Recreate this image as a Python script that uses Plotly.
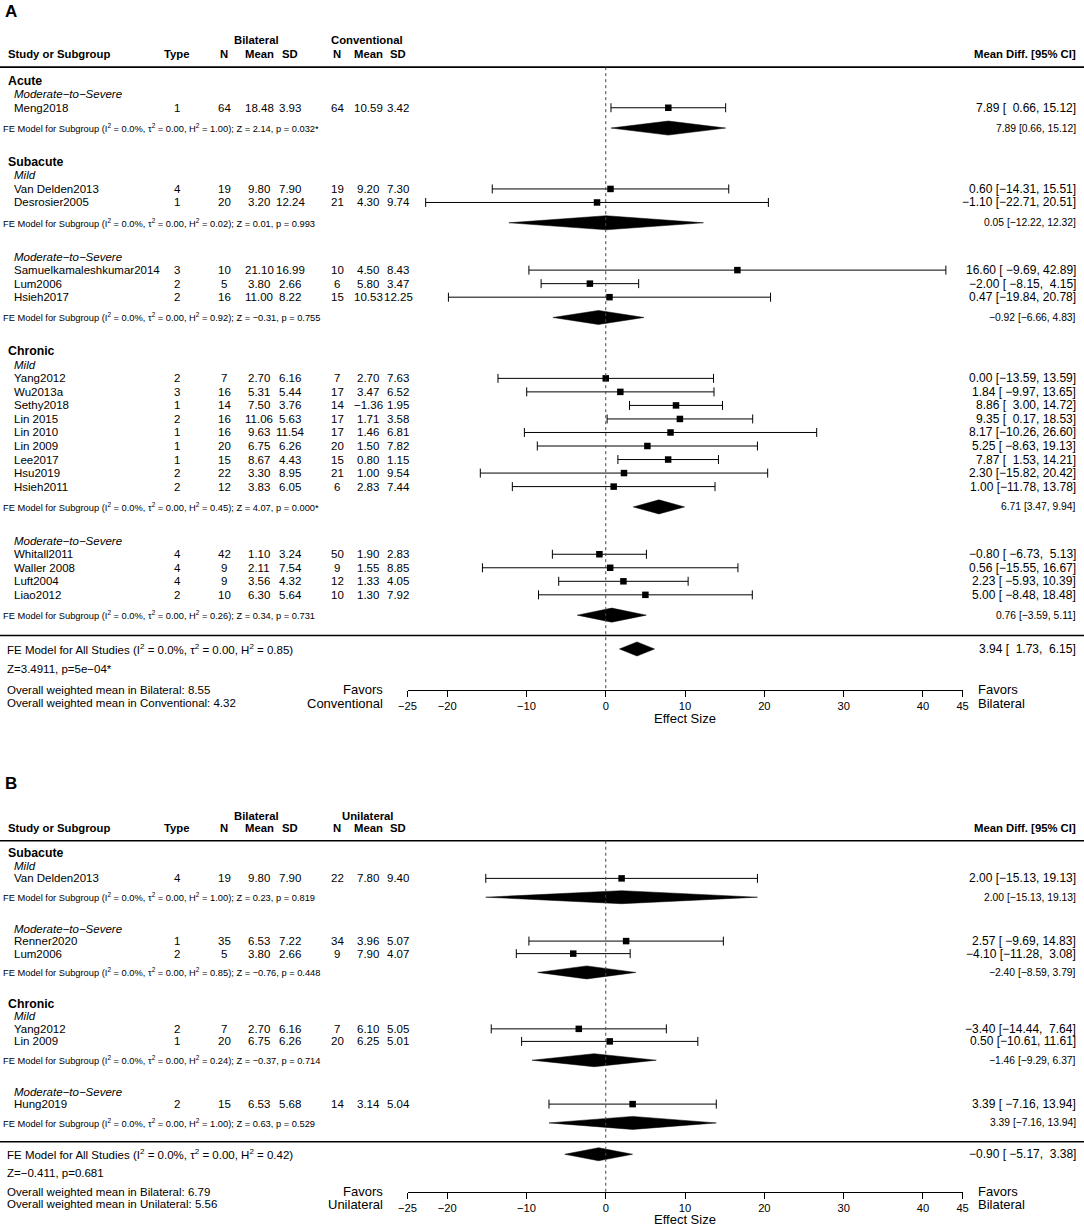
import plotly.graph_objects as go

W, H = 1084, 1226
MINUS = "\u2212"
NB = "\u00a0"
FONT = "Liberation Sans, Arial, Helvetica, sans-serif"

# ---------------- Panel A data (Bilateral vs Conventional) ----------------
a_study = ["Meng2018", "Van Delden2013", "Desrosier2005", "Samuelkamaleshkumar2014", "Lum2006", "Hsieh2017",
           "Yang2012", "Wu2013a", "Sethy2018", "Lin 2015", "Lin 2010", "Lin 2009", "Lee2017", "Hsu2019",
           "Hsieh2011", "Whitall2011", "Waller 2008", "Luft2004", "Liao2012"]
a_stage = ["Acute", "Subacute", "Subacute", "Subacute", "Subacute", "Subacute",
           "Chronic", "Chronic", "Chronic", "Chronic", "Chronic", "Chronic", "Chronic", "Chronic",
           "Chronic", "Chronic", "Chronic", "Chronic", "Chronic"]
a_sev = ["Moderate-to-Severe", "Mild", "Mild", "Moderate-to-Severe", "Moderate-to-Severe", "Moderate-to-Severe",
         "Mild", "Mild", "Mild", "Mild", "Mild", "Mild", "Mild", "Mild", "Mild",
         "Moderate-to-Severe", "Moderate-to-Severe", "Moderate-to-Severe", "Moderate-to-Severe"]
a_type = [1, 4, 1, 3, 2, 2, 2, 3, 1, 2, 1, 1, 1, 2, 2, 4, 4, 4, 2]
a_bn = [64, 19, 20, 10, 5, 16, 7, 16, 14, 16, 16, 20, 15, 22, 12, 42, 9, 9, 10]
a_bmean = [18.48, 9.80, 3.20, 21.10, 3.80, 11.00, 2.70, 5.31, 7.50, 11.06, 9.63, 6.75, 8.67, 3.30, 3.83,
           1.10, 2.11, 3.56, 6.30]
a_bsd = [3.93, 7.90, 12.24, 16.99, 2.66, 8.22, 6.16, 5.44, 3.76, 5.63, 11.54, 6.26, 4.43, 8.95, 6.05,
         3.24, 7.54, 4.32, 5.64]
a_cn = [64, 19, 21, 10, 6, 15, 7, 17, 14, 17, 17, 20, 15, 21, 6, 50, 9, 12, 10]
a_cmean = [10.59, 9.20, 4.30, 4.50, 5.80, 10.53, 2.70, 3.47, -1.36, 1.71, 1.46, 1.50, 0.80, 1.00, 2.83,
           1.90, 1.55, 1.33, 1.30]
a_csd = [3.42, 7.30, 9.74, 8.43, 3.47, 12.25, 7.63, 6.52, 1.95, 3.58, 6.81, 7.82, 1.15, 9.54, 7.44,
         2.83, 8.85, 4.05, 7.92]
a_md = [7.89, 0.60, -1.10, 16.60, -2.00, 0.47, 0.00, 1.84, 8.86, 9.35, 8.17, 5.25, 7.87, 2.30, 1.00,
        -0.80, 0.56, 2.23, 5.00]
a_lo = [0.66, -14.31, -22.71, -9.69, -8.15, -19.84, -13.59, -9.97, 3.00, 0.17, -10.26, -8.63, 1.53, -15.82,
        -11.78, -6.73, -15.55, -5.93, -8.48]
a_hi = [15.12, 15.51, 20.51, 42.89, 4.15, 20.78, 13.59, 13.65, 14.72, 18.53, 26.60, 19.13, 14.21, 20.42,
        13.78, 5.13, 16.67, 10.39, 18.48]
# subgroup fixed-effect models
a_fe_stage = ["Acute", "Subacute", "Subacute", "Chronic", "Chronic"]
a_fe_sev = ["Moderate-to-Severe", "Mild", "Moderate-to-Severe", "Mild", "Moderate-to-Severe"]
a_fe_i2 = [0.0, 0.0, 0.0, 0.0, 0.0]
a_fe_tau2 = [0.00, 0.00, 0.00, 0.00, 0.00]
a_fe_h2 = [1.00, 0.02, 0.92, 0.45, 0.26]
a_fe_z = [2.14, 0.01, -0.31, 4.07, 0.34]
a_fe_p = [0.032, 0.993, 0.755, 0.000, 0.731]
a_fe_md = [7.89, 0.05, -0.92, 6.71, 0.76]
a_fe_lo = [0.66, -12.22, -6.66, 3.47, -3.59]
a_fe_hi = [15.12, 12.32, 4.83, 9.94, 5.11]
# overall model
a_all = dict(md=3.94, lo=1.73, hi=6.15, i2=0.0, tau2=0.00, h2=0.85, z="3.4911", p=5e-04,
             mean_b=8.55, mean_c=4.32)

# ---------------- Panel B data (Bilateral vs Unilateral) ----------------
b_study = ["Van Delden2013", "Renner2020", "Lum2006", "Yang2012", "Lin 2009", "Hung2019"]
b_stage = ["Subacute", "Subacute", "Subacute", "Chronic", "Chronic", "Chronic"]
b_sev = ["Mild", "Moderate-to-Severe", "Moderate-to-Severe", "Mild", "Mild", "Moderate-to-Severe"]
b_type = [4, 1, 2, 2, 1, 2]
b_bn = [19, 35, 5, 7, 20, 15]
b_bmean = [9.80, 6.53, 3.80, 2.70, 6.75, 6.53]
b_bsd = [7.90, 7.22, 2.66, 6.16, 6.26, 5.68]
b_cn = [22, 34, 9, 7, 20, 14]
b_cmean = [7.80, 3.96, 7.90, 6.10, 6.25, 3.14]
b_csd = [9.40, 5.07, 4.07, 5.05, 5.01, 5.04]
b_md = [2.00, 2.57, -4.10, -3.40, 0.50, 3.39]
b_lo = [-15.13, -9.69, -11.28, -14.44, -10.61, -7.16]
b_hi = [19.13, 14.83, 3.08, 7.64, 11.61, 13.94]
b_fe_stage = ["Subacute", "Subacute", "Chronic", "Chronic"]
b_fe_sev = ["Mild", "Moderate-to-Severe", "Mild", "Moderate-to-Severe"]
b_fe_i2 = [0.0, 0.0, 0.0, 0.0]
b_fe_tau2 = [0.00, 0.00, 0.00, 0.00]
b_fe_h2 = [1.00, 0.85, 0.24, 1.00]
b_fe_z = [0.23, -0.76, -0.37, 0.63]
b_fe_p = [0.819, 0.448, 0.714, 0.529]
b_fe_md = [2.00, -2.40, -1.46, 3.39]
b_fe_lo = [-15.13, -8.59, -9.29, -7.16]
b_fe_hi = [19.13, 3.79, 6.37, 13.94]
b_all = dict(md=-0.90, lo=-5.17, hi=3.38, i2=0.0, tau2=0.00, h2=0.42, z="-0.411", p=0.681,
             mean_b=6.79, mean_c=5.56)

x_ticks = [-25, -20, -10, 0, 10, 20, 30, 40, 45]
x_range = [-25, 45]

# ---------------- layout geometry (pixels) ----------------
COL = dict(type=177, bn=224, bmean=259, bsd=290, cn=337, cmean=368, csd=398)
X_AX0, X_AX1 = 407.5, 962.6
X_RIGHT = 1076


def mm(s):
    return s.replace("-", MINUS)


def f2(v):
    return mm(f"{v:.2f}")


def fp(p):
    s = f"{p:.0e}" if (0 < p < 0.001) else f"{p:.3f}"
    return mm(s) + ("*" if p < 0.05 else "")


def pad(s, w):
    return NB * max(0, w - len(s)) + s


fig = go.Figure()
annotations = []
shapes = []


def ann(text, xpx, row, yref, size=11.5, anchor="left", bold=False, italic=False, xref="paper"):
    if bold:
        text = f"<b>{text}</b>"
    if italic:
        text = f"<i>{text}</i>"
    annotations.append(dict(
        text=text, x=(xpx / W if xref == "paper" else xpx), y=row, xref=xref, yref=yref,
        xanchor=anchor, yanchor="middle", showarrow=False, borderpad=0, borderwidth=0,
        font=dict(family=FONT, size=size, color="black")))


def panel(P, xa, ya, base_px, row_px, top_px, bot_px, letter, letter_px, other_name, effect_dpx):
    n = len(P["study"])
    # ---- compute row positions from the group structure ----
    rows = [0.0] * n
    fe_rows = []
    r = 0.0
    seen_stage = []
    head_rows = []
    for k in range(len(P["fe_stage"])):
        st, sv = P["fe_stage"][k], P["fe_sev"][k]
        if st not in seen_stage:
            seen_stage.append(st)
            head_rows.append(("stage", st, r))
            r += 1
        head_rows.append(("sev", sv, r))
        r += 1
        idx = [i for i in range(n) if P["stage"][i] == st and P["sev"][i] == sv]
        for i in idx:
            rows[i] = r
            r += 1
        fe_r = r + 0.5
        fe_rows.append(fe_r)
        r = fe_r + 2.5
    line_r = fe_rows[-1] + 1.5
    all_r = line_r + 1
    z_r = all_r + 1.5
    mb_r = z_r + 1.5
    mc_r = mb_r + 1
    axis_r = mb_r

    def rpx(row):
        return base_px + row * row_px

    def pxr(px):
        return (px - base_px) / row_px

    yk = "yaxis" + ya[1:]
    xk = "xaxis" + xa[1:]
    fig.layout[yk] = dict(domain=[1 - bot_px / H, 1 - top_px / H], range=[pxr(bot_px), pxr(top_px)],
                          autorange=False, visible=False, fixedrange=True, automargin=False)
    fig.layout[xk] = dict(domain=[X_AX0 / W, X_AX1 / W], range=x_range, autorange=False,
                          anchor="free", position=1 - rpx(axis_r) / H, automargin=False,
                          showline=True, linecolor="black", linewidth=1, mirror=False,
                          ticks="outside", ticklen=6, tickwidth=1, tickcolor="black",
                          tickmode="array", tickvals=x_ticks, showgrid=False, zeroline=False,
                          tickfont=dict(family=FONT, size=11.2, color="black"), fixedrange=True)

    # ---- panel letter and headers ----
    annotations.append(dict(text="<b>" + letter + "</b>", x=4 / W, y=1 - letter_px / H, xref="paper",
                            yref="paper", xanchor="left", yanchor="middle", showarrow=False,
                            borderpad=0, font=dict(family=FONT, size=17, color="black")))
    ann("Bilateral", 256, -3, ya, size=11.3, anchor="center", bold=True)
    ann(other_name, 367, -3, ya, size=11.3, anchor="center", bold=True)
    ann("Study or Subgroup", 8, -2, ya, size=11.3, bold=True)
    ann("Type", 177, -2, ya, size=11.3, anchor="center", bold=True)
    for nm, key in (("N", "bn"), ("Mean", "bmean"), ("SD", "bsd"), ("N", "cn"), ("Mean", "cmean"), ("SD", "csd")):
        ann(nm, COL[key], -2, ya, size=11.3, anchor="center", bold=True)
    ann("Mean Diff. [95% CI]", X_RIGHT, -2, ya, size=11.3, anchor="right", bold=True)

    # ---- horizontal rules and zero line ----
    for rr in (-1, line_r):
        shapes.append(dict(type="line", xref="paper", yref=ya, x0=0, x1=1, y0=rr, y1=rr,
                           line=dict(color="black", width=1.6)))
    shapes.append(dict(type="line", xref=xa, yref=ya, x0=0, x1=0, y0=-1, y1=axis_r,
                       line=dict(color="#444444", width=1, dash="dot")))

    # ---- group / subgroup labels ----
    for kind, txt, rr in head_rows:
        if kind == "stage":
            ann(txt, 8, rr, ya, size=12.3, bold=True)
        else:
            ann(mm(txt), 14, rr, ya, size=11.5, italic=True)

    # ---- study rows ----
    lw = max(len(f2(v)) for v in P["lo"] + [P["all"]["lo"]])
    hw = max(len(f2(v)) for v in P["hi"] + [P["all"]["hi"]])
    for i in range(n):
        rr = rows[i]
        ann(P["study"][i], 14, rr, ya, size=11.5)
        ann(str(P["type"][i]), COL["type"], rr, ya, size=11.5, anchor="center")
        ann(str(P["bn"][i]), COL["bn"], rr, ya, size=11.5, anchor="center")
        ann(f2(P["bmean"][i]), COL["bmean"], rr, ya, size=11.5, anchor="center")
        ann(f2(P["bsd"][i]), COL["bsd"], rr, ya, size=11.5, anchor="center")
        ann(str(P["cn"][i]), COL["cn"], rr, ya, size=11.5, anchor="center")
        ann(f2(P["cmean"][i]), COL["cmean"], rr, ya, size=11.5, anchor="center")
        ann(f2(P["csd"][i]), COL["csd"], rr, ya, size=11.5, anchor="center")
        ci = f"{f2(P['md'][i])} [{pad(f2(P['lo'][i]), lw)}, {pad(f2(P['hi'][i]), hw)}]"
        ann(ci, X_RIGHT, rr, ya, size=12, anchor="right")

    fig.add_trace(go.Scatter(
        x=P["md"], y=rows, mode="markers", xaxis=xa, yaxis=ya, cliponaxis=False,
        marker=dict(symbol="square", size=6.5, color="black"),
        error_x=dict(type="data", symmetric=False,
                     array=[h - m for h, m in zip(P["hi"], P["md"])],
                     arrayminus=[m - l for m, l in zip(P["md"], P["lo"])],
                     color="black", thickness=1, width=4.5),
        hoverinfo="skip"))

    # ---- subgroup models ----
    half = 0.52
    for k, rr in enumerate(fe_rows):
        txt = (f"FE Model for Subgroup (I<sup>2</sup> = {P['fe_i2'][k]:.1f}%, "
               f"τ<sup>2</sup> = {P['fe_tau2'][k]:.2f}, H<sup>2</sup> = {P['fe_h2'][k]:.2f}); "
               f"Z = {f2(P['fe_z'][k])}, p = {fp(P['fe_p'][k])}")
        ann(txt, 3, rr, ya, size=9.3)
        ann(f"{f2(P['fe_md'][k])} [{f2(P['fe_lo'][k])}, {f2(P['fe_hi'][k])}]", X_RIGHT, rr, ya,
            size=10.3, anchor="right")
        m, l, h = P["fe_md"][k], P["fe_lo"][k], P["fe_hi"][k]
        fig.add_trace(go.Scatter(x=[l, m, h, m, l], y=[rr, rr - half, rr, rr + half, rr],
                                 mode="lines", fill="toself", fillcolor="black",
                                 line=dict(color="black", width=0.5), xaxis=xa, yaxis=ya,
                                 hoverinfo="skip"))

    # ---- overall model ----
    A = P["all"]
    ann(f"FE Model for All Studies (I<sup>2</sup> = {A['i2']:.1f}%, τ<sup>2</sup> = {A['tau2']:.2f}, "
        f"H<sup>2</sup> = {A['h2']:.2f})", 7, all_r, ya, size=11.5)
    ann(f"Z={mm(A['z'])}, p={fp(A['p'])}", 7, z_r, ya, size=11.5)
    ann(f"Overall weighted mean in Bilateral: {A['mean_b']:.2f}", 7, mb_r, ya, size=11.5)
    ann(f"Overall weighted mean in {other_name}: {A['mean_c']:.2f}", 7, mc_r, ya, size=11.5)
    ci = f"{f2(A['md'])} [{pad(f2(A['lo']), lw)}, {pad(f2(A['hi']), hw)}]"
    ann(ci, X_RIGHT, all_r, ya, size=12, anchor="right")
    m, l, h = A["md"], A["lo"], A["hi"]
    fig.add_trace(go.Scatter(x=[l, m, h, m, l], y=[all_r, all_r - half, all_r, all_r + half, all_r],
                             mode="lines", fill="toself", fillcolor="black",
                             line=dict(color="black", width=0.5), xaxis=xa, yaxis=ya, hoverinfo="skip"))

    # ---- axis annotations ----
    ann("Favors", 383, mb_r, ya, size=13, anchor="right")
    ann(other_name, 383, mc_r, ya, size=13, anchor="right")
    ann("Favors", 978, mb_r, ya, size=13)
    ann("Bilateral", 978, mc_r, ya, size=13)
    ann("Effect Size", (x_range[0] + x_range[1]) / 2, axis_r + effect_dpx / row_px, ya, size=13,
        anchor="center", xref=xa)


PA = dict(study=a_study, stage=a_stage, sev=a_sev, type=a_type, bn=a_bn, bmean=a_bmean, bsd=a_bsd,
          cn=a_cn, cmean=a_cmean, csd=a_csd, md=a_md, lo=a_lo, hi=a_hi,
          fe_stage=a_fe_stage, fe_sev=a_fe_sev, fe_i2=a_fe_i2, fe_tau2=a_fe_tau2, fe_h2=a_fe_h2,
          fe_z=a_fe_z, fe_p=a_fe_p, fe_md=a_fe_md, fe_lo=a_fe_lo, fe_hi=a_fe_hi, all=a_all)
PB = dict(study=b_study, stage=b_stage, sev=b_sev, type=b_type, bn=b_bn, bmean=b_bmean, bsd=b_bsd,
          cn=b_cn, cmean=b_cmean, csd=b_csd, md=b_md, lo=b_lo, hi=b_hi,
          fe_stage=b_fe_stage, fe_sev=b_fe_sev, fe_i2=b_fe_i2, fe_tau2=b_fe_tau2, fe_h2=b_fe_h2,
          fe_z=b_fe_z, fe_p=b_fe_p, fe_md=b_fe_md, fe_lo=b_fe_lo, fe_hi=b_fe_hi, all=b_all)

panel(PA, "x", "y", base_px=80.7, row_px=13.53, top_px=0, bot_px=760, letter="A", letter_px=12,
      other_name="Conventional", effect_dpx=28.5)
panel(PB, "x2", "y2", base_px=853.3, row_px=12.54, top_px=760, bot_px=1226, letter="B", letter_px=783,
      other_name="Unilateral", effect_dpx=27.3)

fig.update_layout(width=W, height=H, margin=dict(l=0, r=0, t=0, b=0, pad=0, autoexpand=False),
                  showlegend=False, paper_bgcolor="white", plot_bgcolor="white",
                  annotations=annotations, shapes=shapes)

fig.write_html("out.html", config={"displayModeBar": False},
               post_script="document.body.style.margin='0';")
